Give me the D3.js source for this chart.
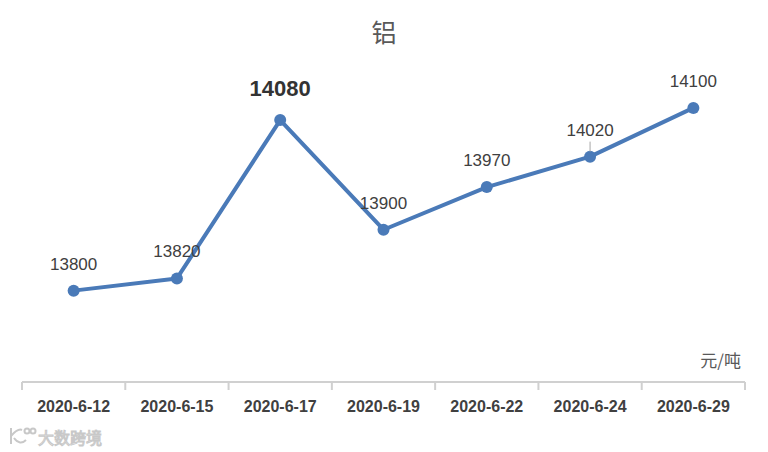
<!DOCTYPE html>
<html><head><meta charset="utf-8">
<script src="https://cdn.jsdelivr.net/npm/d3@7"></script>
<style>body{margin:0;background:#fff}svg{display:block}</style>
</head><body>
<script>
const categories = ["2020-6-12","2020-6-15","2020-6-17","2020-6-19","2020-6-22","2020-6-24","2020-6-29"];
const values = [13800,13820,14080,13900,13970,14020,14100];
const title = "铝";
const unit = "元/吨";

const W = 768, H = 452;
const svg = d3.select("body").append("svg").attr("width", W).attr("height", H);
const x = d3.scaleBand().domain(categories).range([22, 745]);
const y = d3.scaleLinear().domain([13650, 14200]).range([382, 47]);
const cx = d => x(d) + x.bandwidth() / 2;

svg.append("text").attr("x", 384).attr("y", 42).attr("text-anchor", "middle")
  .attr("font-family", "Noto Sans CJK SC").attr("font-size", 25).attr("fill", "#595959").text(title);

const axis = svg.append("g").attr("transform", "translate(0,382)")
  .call(d3.axisBottom(x).tickSize(0).tickPadding(20));
axis.select(".domain").attr("stroke", "#d0d0d0").attr("stroke-width", 2).attr("d", "M22,0H745");
axis.selectAll(".tick text").attr("font-family", "Liberation Sans, Arial").attr("font-weight", "bold")
  .attr("font-size", 16).attr("fill", "#404040").attr("dy", "0.35em").attr("y", 24);
const bounds = categories.map(c => x(c)).concat([x.range()[1]]);
svg.append("g").selectAll("line").data(bounds).join("line")
  .attr("x1", d => d).attr("x2", d => d).attr("y1", 382).attr("y2", 390)
  .attr("stroke", "#d0d0d0").attr("stroke-width", 2);

svg.append("text").attr("x", 741).attr("y", 367).attr("text-anchor", "end")
  .attr("font-family", "Noto Sans CJK SC").attr("font-size", 17).attr("fill", "#595959").text(unit);

const data = categories.map((c, i) => ({c, v: values[i]}));
svg.append("path").datum(data)
  .attr("d", d3.line().x(d => cx(d.c)).y(d => y(d.v)))
  .attr("fill", "none").attr("stroke", "#4a7ab8").attr("stroke-width", 4).attr("stroke-linejoin", "round");
svg.append("g").selectAll("circle").data(data).join("circle")
  .attr("cx", d => cx(d.c)).attr("cy", d => y(d.v)).attr("r", 6).attr("fill", "#4a7ab8");

const peakIdx = 2;
// leader line for 14020
svg.append("line").attr("x1", cx(categories[5])).attr("x2", cx(categories[5]))
  .attr("y1", y(values[5]) - 15).attr("y2", y(values[5]) - 5).attr("stroke", "#a6a6a6").attr("stroke-width", 1);

svg.append("g").selectAll("text").data(data).join("text")
  .attr("x", d => cx(d.c))
  .attr("y", (d, i) => i === peakIdx ? y(d.v) - 24 : y(d.v) - 21)
  .attr("text-anchor", "middle")
  .attr("font-family", "Liberation Sans, Arial")
  .attr("font-size", (d, i) => i === peakIdx ? 22 : 17)
  .attr("font-weight", (d, i) => i === peakIdx ? "bold" : "normal")
  .attr("fill", (d, i) => i === peakIdx ? "#333" : "#404040")
  .text(d => d.v);

// watermark
const wm = svg.append("g").attr("fill", "none").attr("stroke", "#c8c8c8").attr("stroke-width", 2);
wm.append("path").attr("d", "M11,428 L11,444 M11,436 Q18,428 22,430 M14,438 Q20,446 26,440");
wm.append("circle").attr("cx", 27).attr("cy", 431).attr("r", 2.5);
wm.append("circle").attr("cx", 33).attr("cy", 431).attr("r", 2.5);
svg.append("text").attr("x", 38).attr("y", 444).attr("font-family", "Noto Sans CJK SC")
  .attr("font-size", 16).attr("fill", "#fff").attr("stroke", "#c8c8c8").attr("stroke-width", 1).text("大数跨境");
</script>
</body></html>
